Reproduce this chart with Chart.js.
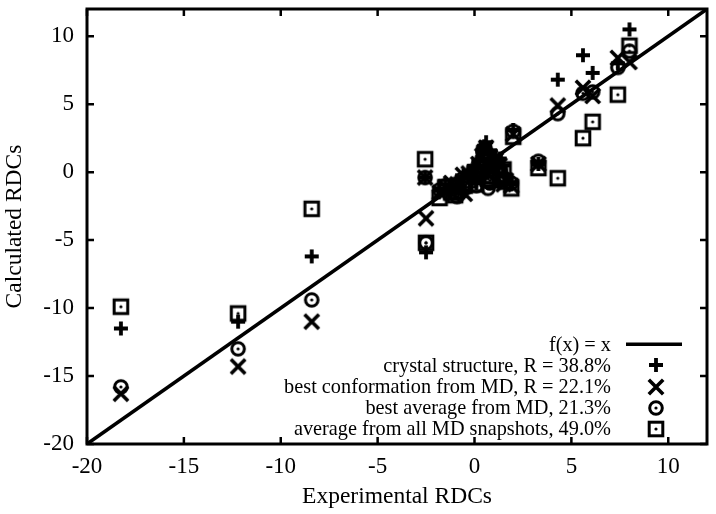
<!DOCTYPE html>
<html>
<head>
<meta charset="utf-8">
<script src="https://cdn.jsdelivr.net/npm/chart.js@4/dist/chart.umd.min.js"></script>
<style>
  html, body { margin: 0; padding: 0; background: #fff; }
  #wrap { width: 716px; height: 514px; position: relative; }
</style>
</head>
<body>
<div id="wrap"><canvas id="c" width="716" height="514"></canvas></div>
<script>
// ---- data ----
const expRDC   = [-18.25, -12.2, -8.4, -2.55, -2.5, -1.8, -1.5, -1.2, -1.0, -0.9, -0.6, -0.5, -0.3, 0.0, 0.1, 0.2, 0.4, 0.5, 0.6, 0.7, 0.8, 0.9, 1.1, 1.3, 1.5, 1.6, 1.9, 2.0, 3.3, 4.3, 5.6, 6.1, 7.4, 8.0];
const crystal  = [-11.5, -11.0, -6.2, -0.4, -5.9, -1.2, -0.9, -1.0, -1.5, -0.6, -0.4, -1.4, 0.1, 0.3, -0.8, 0.8, 1.5, 1.9, 2.2, 0.2, 1.6, 0.6, 1.2, 1.0, 0.5, -0.3, -0.9, 3.1, 0.6, 6.8, 8.6, 7.3, 8.0, 10.5];
const bestConf = [-16.3, -14.3, -11.0, -0.4, -3.4, -1.5, -1.1, -0.8, -1.3, -0.9, -0.2, -1.6, -0.1, 0.0, -0.6, 0.6, 1.2, 1.5, 1.8, -0.2, 1.1, 0.4, 0.9, 0.5, -0.9, -0.6, -1.0, 2.8, 0.6, 4.9, 6.2, 5.6, 8.4, 8.1];
const bestAvg  = [-15.8, -13.0, -9.4, -0.4, -5.2, -1.3, -1.0, -1.3, -0.9, -1.8, -0.5, -1.2, -0.3, 0.1, -1.0, 0.5, 1.0, 1.7, 1.5, -1.2, -0.8, 0.2, 0.8, 0.2, -0.6, -0.5, -0.8, 3.0, 0.8, 4.3, 5.8, 5.9, 7.7, 8.9];
const allMD    = [-9.9, -10.4, -2.7, 0.95, -5.2, -1.9, -1.1, -1.5, -1.7, -1.4, -0.8, -1.0, -0.6, -0.2, -0.9, 0.0, 0.4, 1.3, 1.0, -0.5, -0.6, -0.3, 0.5, -0.2, 0.2, -0.7, -1.2, 2.6, 0.3, -0.45, 2.5, 3.7, 5.7, 9.3];
const identityLine = [-20, 12];
const seriesLabels = [
  'f(x) = x',
  'crystal structure, R = 38.8%',
  'best conformation from MD, R = 22.1%',
  'best average from MD, 21.3%',
  'average from all MD snapshots, 49.0%'
];
const tickValues = [-20, -15, -10, -5, 0, 5, 10];
const axisMin = -20, axisMax = 12;
const xTitle = 'Experimental RDCs';
const yTitle = 'Calculated RDCs';

const FONT = "'Liberation Serif', 'Times New Roman', serif";

function makeMarker(kind) {
  const c = document.createElement('canvas');
  c.width = 22; c.height = 22;
  const g = c.getContext('2d');
  g.strokeStyle = '#000'; g.fillStyle = '#000';
  g.translate(11, 11);
  g.lineCap = 'butt';
  if (kind === 'plus') {
    g.lineWidth = 3.8;
    g.beginPath(); g.moveTo(-7, 0); g.lineTo(7, 0); g.moveTo(0, -7); g.lineTo(0, 7); g.stroke();
  } else if (kind === 'x') {
    g.lineWidth = 3.6;
    g.beginPath(); g.moveTo(-7.2, -7.2); g.lineTo(7.2, 7.2); g.moveTo(7.2, -7.2); g.lineTo(-7.2, 7.2); g.stroke();
  } else if (kind === 'circle') {
    g.lineWidth = 3;
    g.beginPath(); g.arc(0, 0, 6.3, 0, Math.PI * 2); g.stroke();
    g.beginPath(); g.arc(0, 0, 1.6, 0, Math.PI * 2); g.fill();
  } else if (kind === 'square') {
    g.lineWidth = 3;
    g.strokeRect(-6.8, -6.8, 13.6, 13.6);
    g.beginPath(); g.arc(0, 0, 1.6, 0, Math.PI * 2); g.fill();
  }
  return c;
}
const markers = [null, makeMarker('plus'), makeMarker('x'), makeMarker('circle'), makeMarker('square')];

function pts(ys) { return expRDC.map((x, i) => ({ x: x, y: ys[i] })); }

const datasets = [
  { label: seriesLabels[0], data: identityLine.map(v => ({ x: v, y: v })), showLine: true,
    borderColor: '#000', borderWidth: 3.5, pointRadius: 0, order: 5, kind: 'line' },
  { label: seriesLabels[1], data: pts(crystal), pointStyle: markers[1], order: 4 },
  { label: seriesLabels[2], data: pts(bestConf), pointStyle: markers[2], order: 3 },
  { label: seriesLabels[3], data: pts(bestAvg), pointStyle: markers[3], order: 2 },
  { label: seriesLabels[4], data: pts(allMD), pointStyle: markers[4], order: 1 }
];

const framePlugin = {
  id: 'frame',
  afterDraw(chart) {
    const { ctx, chartArea: a, scales } = chart;
    ctx.save();
    ctx.strokeStyle = '#000';
    ctx.lineWidth = 2.5;
    const tl = 7;
    scales.x.ticks.forEach(t => {
      const px = scales.x.getPixelForValue(t.value);
      ctx.beginPath();
      ctx.moveTo(px, a.bottom); ctx.lineTo(px, a.bottom - tl);
      ctx.moveTo(px, a.top); ctx.lineTo(px, a.top + tl);
      ctx.stroke();
    });
    scales.y.ticks.forEach(t => {
      const py = scales.y.getPixelForValue(t.value);
      ctx.beginPath();
      ctx.moveTo(a.left, py); ctx.lineTo(a.left + tl, py);
      ctx.moveTo(a.right, py); ctx.lineTo(a.right - tl, py);
      ctx.stroke();
    });
    ctx.lineWidth = 3;
    ctx.strokeRect(a.left, a.top, a.right - a.left, a.bottom - a.top);

    // key, inside bottom-right
    const n = chart.data.datasets.length;
    const rowH = 21.2;
    const textRight = a.right - 96;
    const sampleX = a.right - 51;
    ctx.font = '20.3px ' + FONT;
    ctx.fillStyle = '#000';
    ctx.textAlign = 'right';
    ctx.textBaseline = 'middle';
    chart.data.datasets.forEach((ds, i) => {
      const y = a.bottom - 15 - (n - 1 - i) * rowH;
      ctx.fillText(ds.label, textRight, y + 1);
      if (ds.kind === 'line') {
        ctx.lineWidth = 3.5;
        ctx.beginPath(); ctx.moveTo(sampleX - 30, y); ctx.lineTo(sampleX + 26, y); ctx.stroke();
      } else {
        const m = ds.pointStyle;
        ctx.drawImage(m, Math.round(sampleX - m.width / 2), Math.round(y - m.height / 2));
      }
    });
    ctx.restore();
  }
};

const keepFives = s => { s.ticks = tickValues.map(v => ({ value: v })); };
const noPad = s => { s.paddingTop = 0; s.paddingBottom = 0; s.paddingLeft = 0; s.paddingRight = 0; };

new Chart(document.getElementById('c'), {
  type: 'scatter',
  data: { datasets: datasets },
  options: {
    responsive: false,
    animation: false,
    devicePixelRatio: 1,
    layout: { padding: { top: 7, right: 8, left: 0, bottom: 0 } },
    elements: { point: { radius: 8, borderColor: '#000', backgroundColor: '#000' } },
    plugins: { legend: { display: false }, tooltip: { enabled: false } },
    scales: {
      x: {
        type: 'linear', min: axisMin, max: axisMax,
        afterBuildTicks: keepFives,
        afterFit: s => { s.height = 70; noPad(s); },
        grid: { display: false, drawTicks: false },
        border: { display: false },
        ticks: { color: '#000', padding: 9, font: { family: FONT, size: 23 }, callback: v => String(v) },
        title: { display: true, text: xTitle, color: '#000', font: { family: FONT, size: 23.5 }, padding: { top: 0, bottom: 3 } }
      },
      y: {
        type: 'linear', min: axisMin, max: axisMax,
        afterBuildTicks: keepFives,
        afterFit: s => { s.width = 87; noPad(s); },
        grid: { display: false, drawTicks: false },
        border: { display: false },
        ticks: { color: '#000', padding: 13, font: { family: FONT, size: 23 }, callback: v => String(v) },
        title: { display: true, text: yTitle, color: '#000', font: { family: FONT, size: 23.5 }, padding: { top: 1, bottom: 0 } }
      }
    }
  },
  plugins: [framePlugin]
});
</script>
</body>
</html>
